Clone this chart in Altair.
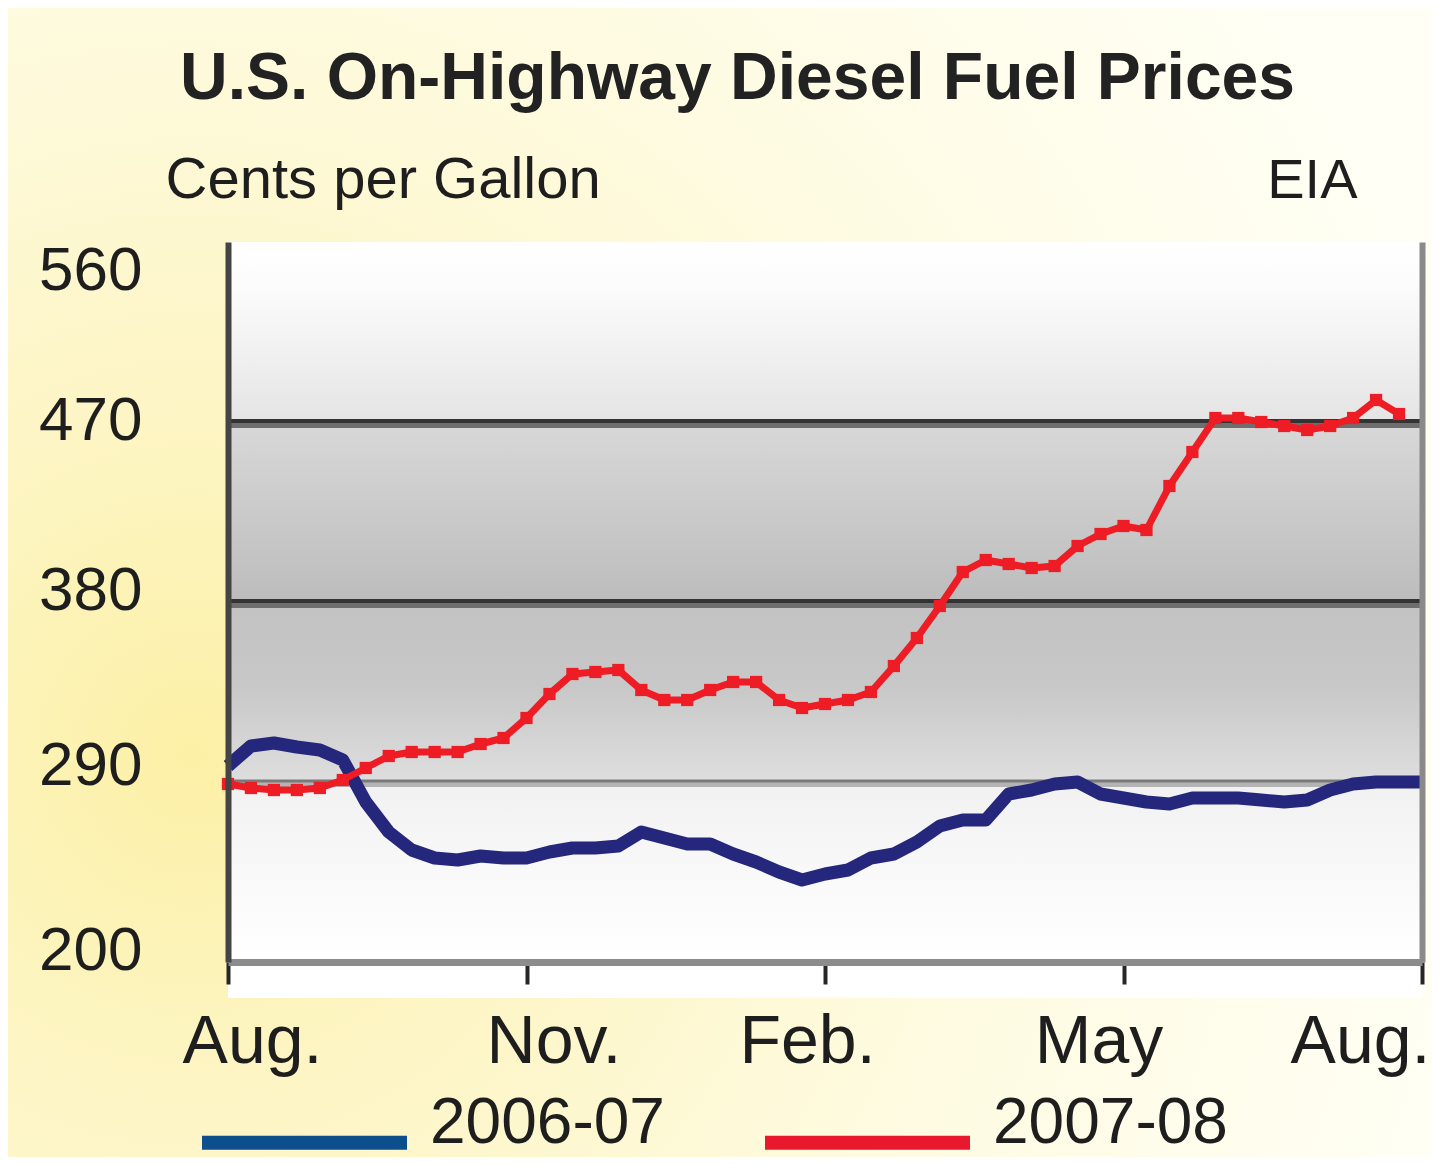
import altair as alt
import pandas as pd

# ---------------- data ----------------
weeks_blue = list(range(53))
price_2006_07 = [298, 308, 309.5, 307.5, 306, 301, 280, 265, 256, 252, 251, 253, 252, 252,
                 255, 257, 257, 258, 265, 262, 259, 259, 254, 250, 245, 241, 244, 246,
                 252, 254, 260, 268, 271, 271, 284, 286, 289, 290, 284, 282, 280, 279,
                 282, 282, 282, 281, 280, 281, 286, 289, 290, 290, 290]
weeks_red = list(range(52))
price_2007_08 = [289, 287, 286, 286, 287, 291, 297, 303, 305, 305, 305, 309, 312, 322,
                 334, 344, 345, 346, 336, 331, 331, 336, 340, 340, 331, 327, 329, 331,
                 335, 348, 362, 378, 395, 401, 399, 397, 398, 408, 414, 418, 416, 438,
                 455, 472, 472, 470, 468, 466, 468, 472, 481, 474]
series_names = ["2006-07", "2007-08"]
month_ticks = [0, 13, 26, 39, 52]
month_labels = ["Aug.", "Nov.", "Feb.", "May", "Aug."]
y_ticks = [200, 290, 380, 470, 560]
grid_values = [290, 380, 470]
x_domain = [0, 52]
y_domain = [200, 560]

df = pd.concat([
    pd.DataFrame({"week": weeks_blue, "price": price_2006_07, "season": series_names[0]}),
    pd.DataFrame({"week": weeks_red, "price": price_2007_08, "season": series_names[1]}),
])
grid_df = pd.DataFrame({"value": grid_values})
one_row = pd.DataFrame({"k": [0]})

FONT = "Liberation Sans"
INK = "#1e1e1e"
BLUE_LINE = "#24277b"
RED_LINE = "#ee1c24"

xscale = alt.Scale(domain=x_domain, nice=False, zero=False)
yscale = alt.Scale(domain=y_domain, nice=False, zero=False)

label_expr = str(month_labels) + "[round(datum.value / 13)]"

x_axis = alt.Axis(
    values=month_ticks, labelExpr=label_expr, title=None, grid=False,
    domainColor="#8c8c8c", domainWidth=7,
    tickColor="#262626", tickWidth=4, tickSize=22,
    labelFont=FONT, labelFontSize=68, labelColor=INK, labelPadding=24,
    labelFlush=False, labelAlign="center",
    labelOffset={"condition": [
        {"test": "datum.value == 0", "value": 24},
        {"test": "datum.value == 13", "value": 27},
        {"test": "datum.value == 26", "value": -18},
        {"test": "datum.value == 39", "value": -25},
        {"test": "datum.value == 52", "value": -62},
    ], "value": 0},
    zindex=1,
)

y_axis_left = alt.Axis(
    values=y_ticks, grid=False, ticks=False, tickSize=0,
    domainColor="#444444", domainWidth=6,
    labelFont=FONT, labelFontSize=62, labelColor=INK, labelPadding=86,
    labelBaseline="middle",
    labelOffset={"condition": [
        {"test": "datum.value == 560", "value": 28},
        {"test": "datum.value == 380", "value": -12},
        {"test": "datum.value == 290", "value": -17},
        {"test": "datum.value == 200", "value": -12},
    ], "value": -2},
    title="Cents per Gallon", titleFont=FONT, titleFontSize=58, titleFontWeight="normal",
    titleColor=INK, titleAngle=0, titleAlign="left", titleBaseline="alphabetic",
    titleX=-63, titleY=-45,
    zindex=1,
)

y_axis_right = alt.Axis(
    orient="right", grid=False, ticks=False, labels=False, tickSize=0,
    domainColor="#8a8a8a", domainWidth=6,
    title="EIA", titleFont=FONT, titleFontSize=56, titleFontWeight="normal",
    titleColor=INK, titleAngle=0, titleAlign="right", titleBaseline="alphabetic",
    titleX=-65, titleY=-45,
    zindex=1,
)

band_fill = alt.LinearGradient(
    gradient="linear", x1=0, x2=0, y1=0, y2=1,
    stops=[
        alt.GradientStop(offset=0.0, color="#ffffff"),
        alt.GradientStop(offset=0.07, color="#fbfbfb"),
        alt.GradientStop(offset=0.25, color="#e4e4e4"),
        alt.GradientStop(offset=0.25, color="#d8d8d8"),
        alt.GradientStop(offset=0.45, color="#c2c2c2"),
        alt.GradientStop(offset=0.5, color="#bcbcbc"),
        alt.GradientStop(offset=0.5, color="#c2c2c2"),
        alt.GradientStop(offset=0.62, color="#c8c8c8"),
        alt.GradientStop(offset=0.75, color="#dedede"),
        alt.GradientStop(offset=0.75, color="#f1f1f1"),
        alt.GradientStop(offset=0.88, color="#f9f9f9"),
        alt.GradientStop(offset=1.0, color="#ffffff"),
    ],
)

page_fill = alt.RadialGradient(
    gradient="radial", x1=0.13, y1=0.62, r1=0.0, x2=0.13, y2=0.62, r2=0.95,
    stops=[
        alt.GradientStop(offset=0.0, color="#fcf0a6"),
        alt.GradientStop(offset=0.25, color="#fdf5c4"),
        alt.GradientStop(offset=0.6, color="#fefbe2"),
        alt.GradientStop(offset=1.0, color="#fffff6"),
    ],
)

# page backdrop: spans the scale domain, pushed out to the page edges
page_backdrop = alt.Chart(one_row).mark_rect(
    fill=page_fill, xOffset=-220, x2Offset=10, yOffset=195, y2Offset=-234
).encode(
    x=alt.XDatum(datum=x_domain[0], type="quantitative", scale=xscale, axis=None),
    x2=alt.X2Datum(datum=x_domain[1]),
    y=alt.YDatum(datum=y_domain[0], type="quantitative", scale=yscale, axis=None),
    y2=alt.Y2Datum(datum=y_domain[1]),
)

background = alt.Chart(one_row).mark_rect(fill=band_fill).encode(
    x=alt.XDatum(datum=x_domain[0], type="quantitative", scale=xscale, axis=x_axis),
    x2=alt.X2Datum(datum=x_domain[1]),
    y=alt.YDatum(datum=y_domain[0], type="quantitative", scale=yscale, axis=y_axis_left),
    y2=alt.Y2Datum(datum=y_domain[1]),
)

under_strip = alt.Chart(one_row).mark_rect(fill="#ffffff", y2Offset=36).encode(
    x=alt.XDatum(datum=x_domain[0], type="quantitative", scale=xscale, axis=None),
    x2=alt.X2Datum(datum=x_domain[1]),
    y=alt.YDatum(datum=y_domain[0], type="quantitative", scale=yscale, axis=None),
    y2=alt.Y2Datum(datum=y_domain[0]),
)

grid_shadow = alt.Chart(grid_df).mark_rule(yOffset=2).encode(
    y=alt.Y("value:Q", scale=yscale, axis=None),
    color=alt.condition(alt.datum.value == 290, alt.value("#b4b4b4"), alt.value("#6e6e6e")),
    strokeWidth=alt.condition(alt.datum.value == 290, alt.value(6), alt.value(8)),
)
grid_core = alt.Chart(grid_df).mark_rule(yOffset=-1).encode(
    y=alt.Y("value:Q", scale=yscale, axis=None),
    color=alt.condition(alt.datum.value == 290, alt.value("#7a7a7a"), alt.value("#333333")),
    strokeWidth=alt.condition(alt.datum.value == 290, alt.value(3), alt.value(4)),
)

legend_layer = alt.Chart(df).mark_line(opacity=0).encode(
    x=alt.X("week:Q", scale=xscale, axis=None),
    y=alt.Y("price:Q", scale=yscale, axis=None),
    color=alt.Color(
        "season:N",
        scale=alt.Scale(domain=series_names, range=["#0d4e8c", "#e8192c"]),
        legend=alt.Legend(
            orient="none", legendX=-33, legendY=791, direction="horizontal", columns=2,
            title=None, symbolType="stroke", symbolSize=42025, symbolStrokeWidth=14,
            symbolOpacity=1, labelFont=FONT, labelFontSize=64, labelColor=INK,
            labelOffset=16, columnPadding=72, labelBaseline="alphabetic", labelLimit=0,
            padding=0, zindex=1,
        ),
    ),
)

blue_line = alt.Chart(df).transform_filter(
    alt.datum.season == series_names[0]
).mark_line(color=BLUE_LINE, strokeWidth=13, strokeJoin="round", strokeCap="butt").encode(
    x=alt.X("week:Q", scale=xscale, axis=None),
    y=alt.Y("price:Q", scale=yscale, axis=y_axis_right),
)

red_line = alt.Chart(df).transform_filter(
    alt.datum.season == series_names[1]
).mark_line(color=RED_LINE, strokeWidth=7, strokeJoin="round").encode(
    x=alt.X("week:Q", scale=xscale, axis=None),
    y=alt.Y("price:Q", scale=yscale, axis=None),
)

red_points = alt.Chart(df).transform_filter(
    alt.datum.season == series_names[1]
).mark_point(shape="square", filled=True, size=150, color=RED_LINE, opacity=1).encode(
    x=alt.X("week:Q", scale=xscale, axis=None),
    y=alt.Y("price:Q", scale=yscale, axis=None),
)

chart = alt.layer(
    page_backdrop, background, under_strip, grid_shadow, grid_core, legend_layer,
    blue_line, red_line, red_points,
).resolve_axis(
    x="independent", y="independent"
).resolve_scale(
    x="shared", y="shared"
).properties(
    width=1194, height=720,
    autosize=alt.AutoSizeParams(type="none"),
    padding={"left": 220, "top": 234, "right": 10, "bottom": 195},
    background="#fffbe4",
    title=alt.TitleParams(
        text="U.S. On-Highway Diesel Fuel Prices", anchor="start", frame="group",
        dx=-48, dy=157, offset=0, baseline="alphabetic", zindex=2,
        font=FONT, fontSize=66, fontWeight="bold", color="#222222",
    ),
).configure_view(stroke=None).configure(font=FONT)

chart.save("out.html", embed_options={"renderer": "svg", "actions": False})
